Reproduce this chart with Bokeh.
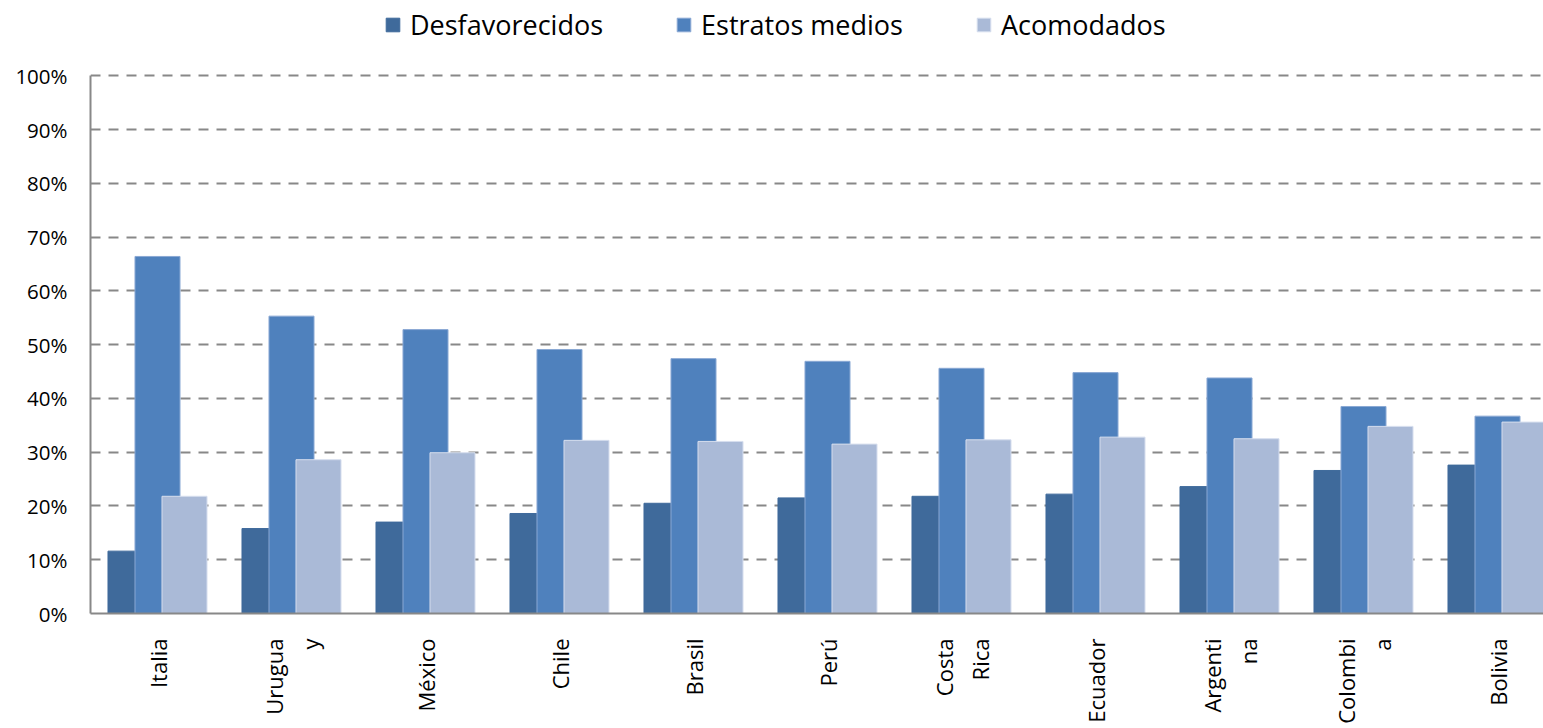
import math
from bokeh.plotting import figure
from bokeh.models import (ColumnDataSource, Range1d, FixedTicker, PrintfTickFormatter,
                          Legend, LegendItem)
from bokeh.transform import dodge
from bokeh.embed import file_html
from bokeh.resources import INLINE

# ---- data ----
countries = ["Italia", "Uruguay", "México", "Chile", "Brasil", "Perú",
             "Costa Rica", "Ecuador", "Argentina", "Colombia", "Bolivia"]
tick_labels = ["Italia", "Urugua\ny", "México", "Chile", "Brasil", "Perú",
               "Costa\nRica", "Ecuador", "Argenti\nna", "Colombi\na", "Bolivia"]
desfavorecidos = [11.6, 15.8, 17.0, 18.6, 20.5, 21.5, 21.8, 22.2, 23.6, 26.6, 27.6]
estratos_medios = [66.4, 55.3, 52.8, 49.1, 47.4, 46.9, 45.6, 44.8, 43.8, 38.5, 36.7]
acomodados = [21.8, 28.6, 29.9, 32.2, 32.0, 31.5, 32.3, 32.8, 32.5, 34.8, 35.6]
series_names = ["Desfavorecidos", "Estratos medios", "Acomodados"]
y_ticks = [0, 10, 20, 30, 40, 50, 60, 70, 80, 90, 100]

colors = ["#3F6A9B", "#4F81BD", "#AABAD7"]
FONT = "Open Sans"

xpos = [i + 0.5 for i in range(len(countries))]
source = ColumnDataSource(dict(x=xpos, d=desfavorecidos, m=estratos_medios, a=acomodados))

FW, FH = 1543, 728
LEFT = 90          # frame left edge (px)
FRAME_H = 613      # frame spans from top of figure down to the 0% line
TOP100 = 75.3      # pixel row of the 100% line
y_end = 100.0 * FRAME_H / (FRAME_H - TOP100)

p = figure(width=FW, height=FH, output_backend="svg", toolbar_location=None,
           x_range=Range1d(0, (FW - LEFT) / 134.0), y_range=Range1d(0, y_end),
           min_border_left=LEFT, min_border_right=0, min_border_top=0,
           min_border_bottom=FH - FRAME_H)
p.outline_line_color = None
p.background_fill_color = "white"
p.border_fill_color = "white"

bw = 0.336
off = 0.2015
r1 = p.vbar(x=dodge("x", -off), top="d", width=bw, source=source,
            fill_color=colors[0], line_color=colors[0], line_width=1)
r2 = p.vbar(x=dodge("x", 0.0), top="m", width=bw, source=source,
            fill_color=colors[1], line_color="#8AA8D4", line_width=1)
r3 = p.vbar(x=dodge("x", off), top="a", width=bw, source=source,
            fill_color=colors[2], line_color="#D6DEEE", line_width=1)

# axes
p.xaxis.ticker = FixedTicker(ticks=xpos)
p.xaxis.major_label_overrides = {x: lab for x, lab in zip(xpos, tick_labels)}
p.xaxis.major_label_orientation = math.pi / 2
p.xaxis.major_label_text_font = FONT
p.xaxis.major_label_text_font_size = "22px"
p.xaxis.major_label_text_color = "black"
p.xaxis.major_label_standoff = 25
p.xaxis.major_tick_out = 0
p.xaxis.major_tick_in = 0
p.xaxis.minor_tick_out = 0
p.xaxis.minor_tick_in = 0
p.xaxis.axis_line_color = "#888888"
p.xaxis.axis_line_width = 2

p.yaxis.ticker = FixedTicker(ticks=y_ticks)
p.yaxis.bounds = (0, 100)
p.yaxis.formatter = PrintfTickFormatter(format="%d%%")
p.yaxis.major_label_text_font = FONT
p.yaxis.major_label_text_font_size = "20.5px"
p.yaxis.major_label_text_color = "black"
p.yaxis.major_label_standoff = 23
p.yaxis.major_tick_out = 0
p.yaxis.major_tick_in = 0
p.yaxis.minor_tick_out = 0
p.yaxis.minor_tick_in = 0
p.yaxis.axis_line_color = "#888888"
p.yaxis.axis_line_width = 2

p.xgrid.grid_line_color = None
p.ygrid.ticker = FixedTicker(ticks=y_ticks)
p.ygrid.grid_line_color = "#888888"
p.ygrid.grid_line_width = 2
p.ygrid.grid_line_dash = "10 8"

legend = Legend(items=[LegendItem(label=series_names[0], renderers=[r1]),
                       LegendItem(label=series_names[1], renderers=[r2]),
                       LegendItem(label=series_names[2], renderers=[r3])],
                orientation="horizontal", location=(384 - LEFT, 570),
                border_line_color=None, background_fill_alpha=0,
                padding=0, margin=0, spacing=72,
                glyph_width=17, glyph_height=17, label_standoff=9,
                label_text_font=FONT, label_text_font_size="27px",
                label_text_color="black")
p.add_layout(legend, "center")

open("out.html", "w").write(file_html(p, INLINE))
